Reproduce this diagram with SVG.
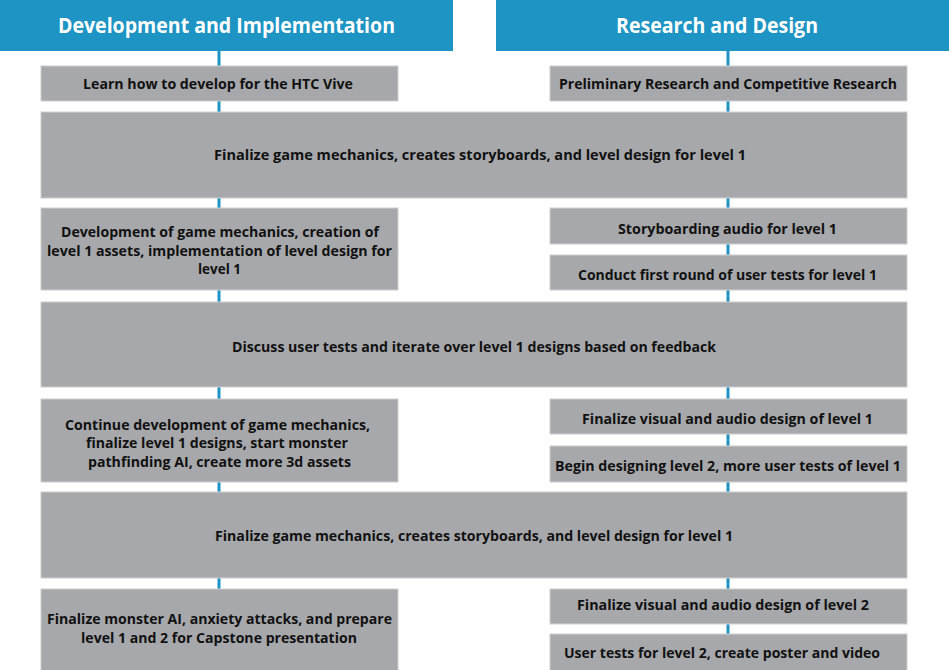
<svg xmlns="http://www.w3.org/2000/svg" width="949" height="670" viewBox="0 0 949 670">
  <style>
    .hdr { fill: #1d94c3; }
    .hdr-t { font-family: "Open Sans", "Liberation Sans", sans-serif; font-weight: 700; font-size: 21px; fill: #ffffff; }
    .box { fill: #a7a8ab; stroke: #cdced0; stroke-width: 1; }
    .t { font-family: "Open Sans", "Liberation Sans", sans-serif; font-weight: 700; font-size: 14.5px; fill: #111111; }
    .link { stroke: #1d94c3; stroke-width: 3; fill: none; }
  </style>

  <rect width="949" height="670" fill="#ffffff"/>

  <!-- column connectors -->
  <g id="connectors">
    <line class="link" x1="219" y1="51" x2="219" y2="66"/>
    <line class="link" x1="219" y1="101" x2="219" y2="112"/>
    <line class="link" x1="219" y1="198" x2="219" y2="208"/>
    <line class="link" x1="219" y1="290" x2="219" y2="302"/>
    <line class="link" x1="219" y1="387" x2="219" y2="399"/>
    <line class="link" x1="219" y1="482" x2="219" y2="492"/>
    <line class="link" x1="219" y1="578" x2="219" y2="589"/>
    <line class="link" x1="728" y1="51" x2="728" y2="66"/>
    <line class="link" x1="728" y1="101" x2="728" y2="112"/>
    <line class="link" x1="728" y1="198" x2="728" y2="208"/>
    <line class="link" x1="728" y1="244" x2="728" y2="255"/>
    <line class="link" x1="728" y1="290" x2="728" y2="302"/>
    <line class="link" x1="728" y1="387" x2="728" y2="399"/>
    <line class="link" x1="728" y1="434" x2="728" y2="446"/>
    <line class="link" x1="728" y1="482" x2="728" y2="492"/>
    <line class="link" x1="728" y1="578" x2="728" y2="589"/>
    <line class="link" x1="728" y1="624" x2="728" y2="634"/>
  </g>

  <!-- column headers -->
  <g id="header-dev">
    <rect class="hdr" x="0" y="0" width="453" height="51"/>
    <text class="hdr-t" x="58" y="33" textLength="337" lengthAdjust="spacingAndGlyphs">Development and Implementation</text>
  </g>
  <g id="header-research">
    <rect class="hdr" x="496" y="0" width="453" height="51"/>
    <text class="hdr-t" x="616" y="33" textLength="202" lengthAdjust="spacingAndGlyphs">Research and Design</text>
  </g>

  <!-- row 1 -->
  <g id="learn-vive">
    <rect class="box" x="41" y="66" width="357" height="35"/>
    <text class="t" x="83" y="88.5" textLength="270" lengthAdjust="spacingAndGlyphs">Learn how to develop for the HTC Vive</text>
  </g>
  <g id="preliminary-research">
    <rect class="box" x="550" y="66" width="357" height="35"/>
    <text class="t" x="559" y="88.5" textLength="338" lengthAdjust="spacingAndGlyphs">Preliminary Research and Competitive Research</text>
  </g>
  <g id="finalize-mechanics-1">
    <rect class="box" x="41" y="112" width="866" height="86"/>
    <text class="t" x="214" y="160" textLength="532" lengthAdjust="spacingAndGlyphs">Finalize game mechanics, creates storyboards, and level design for level 1</text>
  </g>

  <!-- row 2 -->
  <g id="develop-level-1">
    <rect class="box" x="41" y="208" width="357" height="82"/>
    <text class="t" x="61" y="237" textLength="318" lengthAdjust="spacingAndGlyphs">Development of game mechanics, creation of</text>
    <text class="t" x="47" y="255.5" textLength="345" lengthAdjust="spacingAndGlyphs">level 1 assets, implementation of level design for</text>
    <text class="t" x="198" y="274" textLength="43" lengthAdjust="spacingAndGlyphs">level 1</text>
  </g>
  <g id="storyboard-audio">
    <rect class="box" x="550" y="208" width="357" height="36"/>
    <text class="t" x="618" y="233.5" textLength="219" lengthAdjust="spacingAndGlyphs">Storyboarding audio for level 1</text>
  </g>
  <g id="user-tests-1">
    <rect class="box" x="550" y="255" width="357" height="35"/>
    <text class="t" x="578" y="280" textLength="299" lengthAdjust="spacingAndGlyphs">Conduct first round of user tests for level 1</text>
  </g>
  <g id="discuss-tests">
    <rect class="box" x="41" y="302" width="866" height="85"/>
    <text class="t" x="232" y="352" textLength="484" lengthAdjust="spacingAndGlyphs">Discuss user tests and iterate over level 1 designs based on feedback</text>
  </g>

  <!-- row 3 -->
  <g id="continue-development">
    <rect class="box" x="41" y="399" width="357" height="83"/>
    <text class="t" x="65" y="429.5" textLength="305" lengthAdjust="spacingAndGlyphs">Continue development of game mechanics,</text>
    <text class="t" x="86" y="448" textLength="262" lengthAdjust="spacingAndGlyphs">finalize level 1 designs, start monster</text>
    <text class="t" x="88" y="467" textLength="263" lengthAdjust="spacingAndGlyphs">pathfinding AI, create more 3d assets</text>
  </g>
  <g id="finalize-design-1">
    <rect class="box" x="550" y="399" width="357" height="35"/>
    <text class="t" x="582" y="424" textLength="291" lengthAdjust="spacingAndGlyphs">Finalize visual and audio design of level 1</text>
  </g>
  <g id="begin-level-2">
    <rect class="box" x="550" y="446" width="357" height="36"/>
    <text class="t" x="555" y="471" textLength="346" lengthAdjust="spacingAndGlyphs">Begin designing level 2, more user tests of level 1</text>
  </g>
  <g id="finalize-mechanics-2">
    <rect class="box" x="41" y="492" width="866" height="86"/>
    <text class="t" x="215" y="541" textLength="518" lengthAdjust="spacingAndGlyphs">Finalize game mechanics, creates storyboards, and level design for level 1</text>
  </g>

  <!-- row 4 -->
  <g id="capstone-prep">
    <rect class="box" x="41" y="589" width="357" height="90"/>
    <text class="t" x="47" y="624" textLength="345" lengthAdjust="spacingAndGlyphs">Finalize monster AI, anxiety attacks, and prepare</text>
    <text class="t" x="81" y="642.5" textLength="276" lengthAdjust="spacingAndGlyphs">level 1 and 2 for Capstone presentation</text>
  </g>
  <g id="finalize-design-2">
    <rect class="box" x="550" y="589" width="357" height="35"/>
    <text class="t" x="577" y="610" textLength="292" lengthAdjust="spacingAndGlyphs">Finalize visual and audio design of level 2</text>
  </g>
  <g id="user-tests-2">
    <rect class="box" x="550" y="634" width="357" height="45"/>
    <text class="t" x="564" y="657.5" textLength="316" lengthAdjust="spacingAndGlyphs">User tests for level 2, create poster and video</text>
  </g>
</svg>
